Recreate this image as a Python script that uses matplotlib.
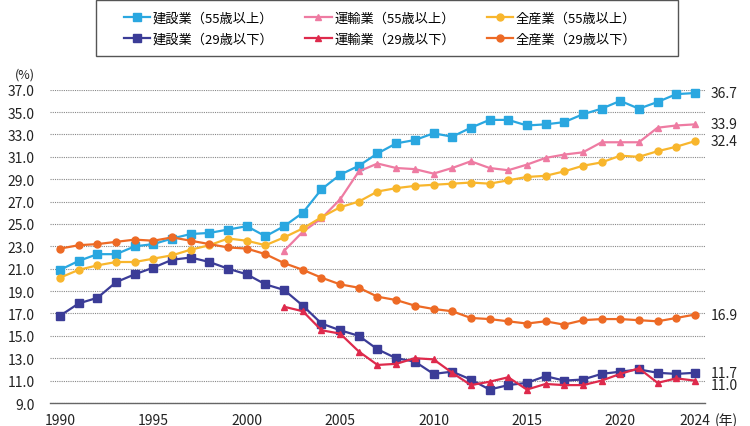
import matplotlib
matplotlib.use("Agg")
import matplotlib.pyplot as plt
from matplotlib.patches import Rectangle

plt.rcParams['font.family'] = ['Noto Sans CJK JP', 'DejaVu Sans']

years = list(range(1990, 2025))
years_t = list(range(2002, 2025))

const55 = [20.9, 21.7, 22.3, 22.3, 23.0, 23.2, 23.7, 24.1, 24.2, 24.5,
           24.8, 23.9, 24.8, 26.0, 28.1, 29.4, 30.2, 31.3, 32.2, 32.5,
           33.1, 32.8, 33.6, 34.3, 34.3, 33.8, 33.9, 34.1, 34.8, 35.3,
           36.0, 35.3, 35.9, 36.6, 36.7]
const29 = [16.8, 17.9, 18.4, 19.8, 20.5, 21.1, 21.8, 22.0, 21.6, 21.0,
           20.5, 19.6, 19.1, 17.7, 16.1, 15.5, 15.0, 13.8, 13.0, 12.7,
           11.6, 11.8, 11.1, 10.2, 10.6, 10.8, 11.4, 11.0, 11.1, 11.6,
           11.8, 12.0, 11.7, 11.6, 11.7]
all55 = [20.2, 20.9, 21.3, 21.6, 21.6, 21.9, 22.2, 22.7, 23.1, 23.7,
         23.5, 23.1, 23.8, 24.6, 25.6, 26.5, 27.0, 27.9, 28.2, 28.4,
         28.5, 28.6, 28.7, 28.6, 28.9, 29.2, 29.3, 29.7, 30.2, 30.5,
         31.1, 31.0, 31.5, 31.9, 32.4]
all29 = [22.8, 23.1, 23.2, 23.4, 23.6, 23.5, 23.8, 23.5, 23.2, 22.9,
         22.8, 22.3, 21.5, 20.9, 20.2, 19.6, 19.3, 18.5, 18.2, 17.7,
         17.4, 17.2, 16.6, 16.5, 16.3, 16.1, 16.3, 16.0, 16.4, 16.5,
         16.5, 16.4, 16.3, 16.6, 16.9]
trans55 = [22.6, 24.3, 25.5, 27.2, 29.7, 30.4, 30.0, 29.9, 29.5, 30.0,
           30.6, 30.0, 29.8, 30.3, 30.9, 31.2, 31.4, 32.3, 32.3, 32.3,
           33.6, 33.8, 33.9]
trans29 = [17.6, 17.2, 15.5, 15.2, 13.6, 12.4, 12.5, 13.0, 12.9, 11.7,
           10.6, 10.9, 11.3, 10.2, 10.7, 10.6, 10.6, 11.0, 11.6, 12.1,
           10.8, 11.2, 11.0]

labels = ['建設業（55歳以上）', '建設業（29歳以下）',
          '運輸業（55歳以上）', '運輸業（29歳以下）',
          '全産業（55歳以上）', '全産業（29歳以下）']
xticks = [1990, 1995, 2000, 2005, 2010, 2015, 2020, 2024]
yticks = list(range(9, 38, 2))

fig = plt.figure(figsize=(7.5, 4.27), dpi=100)
ax = fig.add_axes([50/750, 1-404/427, 655/750, (404-90.67)/427])

series = [
    (years, const55, '#2aa7e0', 's', 5.2, labels[0], 0),
    (years, const29, '#3b3c97', 's', 5.2, labels[1], 0),
    (years_t, trans55, '#ee7ba2', '^', 5.0, labels[2], 0),
    (years_t, trans29, '#de2a4c', '^', 5.0, labels[3], -3.5),
    (years, all55, '#f8b62d', 'o', 5.0, labels[4], 0),
    (years, all29, '#ed6a25', 'o', 5.0, labels[5], 0),
]
handles = []
for xs, ys, c, m, ms, lab, dy in series:
    h, = ax.plot(xs, ys, color=c, marker=m, markersize=ms, linewidth=1.6,
                 label=lab, clip_on=False)
    handles.append(h)
    ax.annotate(f"{ys[-1]:.1f}", xy=(xs[-1], ys[-1]), xytext=(11.5, dy),
                textcoords='offset points', ha='left', va='center',
                fontsize=10, color='#222222')

ax.set_xlim(1989.46, 2024.54)
ax.set_ylim(9, 37)
ax.set_yticks(yticks)
ax.set_yticklabels([f"{v:.1f}" for v in yticks])
ax.set_xticks(xticks)
ax.set_xticklabels([str(v) for v in xticks])
ax.tick_params(axis='y', length=0, pad=11, labelsize=10, colors='#222222')
ax.tick_params(axis='x', length=0, pad=7, labelsize=10, colors='#222222')
ax.yaxis.grid(True, linestyle=(0, (1, 1)), color='#888888', linewidth=0.8)
ax.set_axisbelow(True)
for s in ['top', 'right', 'left']:
    ax.spines[s].set_visible(False)
ax.spines['bottom'].set_color('#666666')
ax.spines['bottom'].set_linewidth(1.0)

ax.annotate('(年)', xy=(2024, 0), xycoords=('data', 'axes fraction'),
            xytext=(14, -7), textcoords='offset points', ha='left', va='top',
            fontsize=10, color='#222222')

fig.text(15/750, 1-75/427, '(%)', fontsize=9, va='center', ha='left', color='#222222')

fig.patches.append(Rectangle((96/750, 1-56.7/427), 582/750, 56/427,
                             transform=fig.transFigure, fill=False,
                             edgecolor='#555555', linewidth=1.0))
fig.legend(handles=handles, loc='center', bbox_to_anchor=(380/750, 1-30/427),
           ncol=3, frameon=False, fontsize=9.5, handlelength=2.0,
           handletextpad=0.2, columnspacing=2.4, labelspacing=0.6)

fig.savefig('out.png', dpi=100)
